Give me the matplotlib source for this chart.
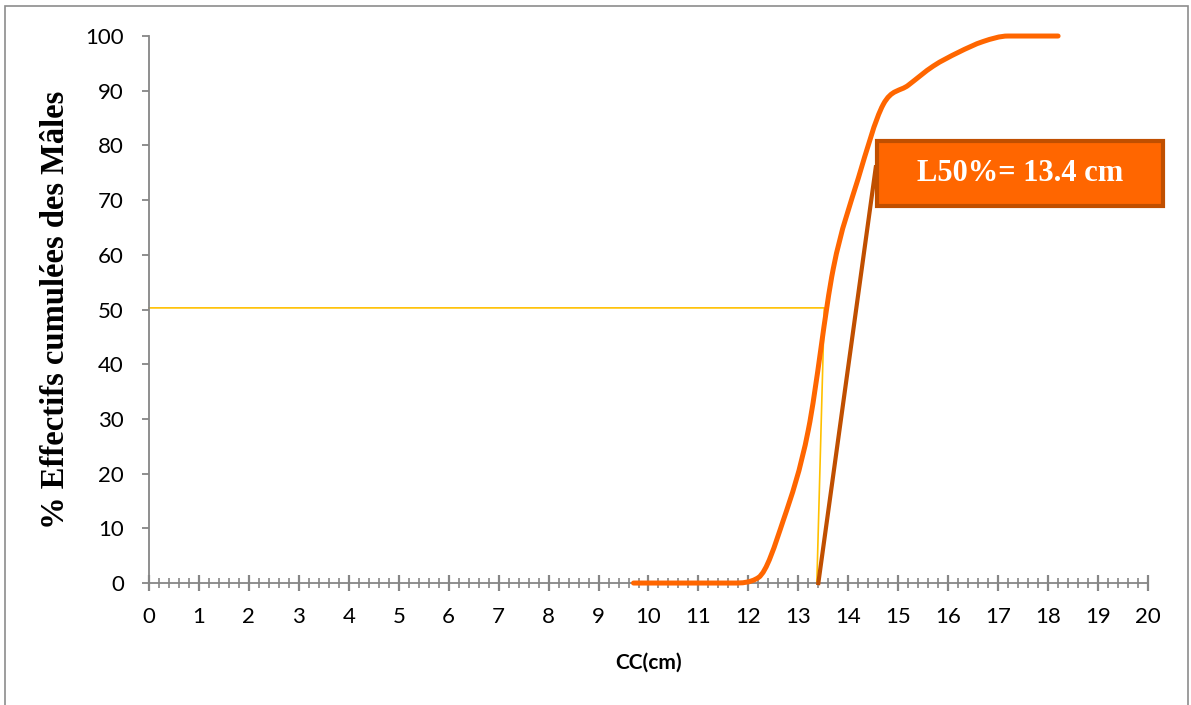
import numpy as np
import matplotlib
matplotlib.use("Agg")
import matplotlib.pyplot as plt
from matplotlib.path import Path
from matplotlib.patches import PathPatch, Rectangle
from matplotlib.ticker import MultipleLocator

# Cumulative % of males by carapace length class (CC, cm)
cc_cm = [9.7, 10.2, 10.7, 11.2, 11.7, 12.2, 12.7, 13.2, 13.7,
         14.2, 14.7, 15.2, 15.7, 16.2, 16.7, 17.2, 17.7, 18.2]
cum_pct = [0, 0, 0, 0, 0, 1, 11.5, 28, 57.5,
           74, 87.5, 91, 94.5, 97, 99, 100, 100, 100]

# L50 construction lines
l50_x = [0, 13.52, 13.37]
l50_y = [50.3, 50.3, 0]
pointer_x = [13.4, 14.55]
pointer_y = [0, 76]
l50_label = "L50%= 13.4 cm"

x_ticks = list(range(0, 21))
y_ticks = list(range(0, 101, 10))

orange = "#FF6600"
brown = "#C04F00"
gold = "#FFC000"
axis_grey = "#868686"
sans = ["Lato", "DejaVu Sans"]
serif = ["Liberation Serif", "DejaVu Serif"]


def smooth_path(xs, ys):
    # Excel-like smoothed line: Catmull-Rom tangents, clamped so flat parts stay flat
    x = np.asarray(xs, float)
    y = np.asarray(ys, float)
    h = np.diff(x)
    d = np.diff(y) / h
    m = np.zeros_like(y)
    m[0], m[-1] = d[0], d[-1]
    for k in range(1, len(y) - 1):
        if d[k - 1] * d[k] > 0:
            cr = (y[k + 1] - y[k - 1]) / (x[k + 1] - x[k - 1])
            m[k] = min(cr, 3 * min(d[k - 1], d[k]))
    verts = [(x[0], y[0])]
    codes = [Path.MOVETO]
    for i in range(len(x) - 1):
        verts += [(x[i] + h[i] / 3, y[i] + m[i] * h[i] / 3),
                  (x[i + 1] - h[i] / 3, y[i + 1] - m[i + 1] * h[i] / 3),
                  (x[i + 1], y[i + 1])]
        codes += [Path.CURVE4] * 3
    return Path(verts, codes)


fig = plt.figure(figsize=(11.91, 7.05), dpi=100)
ax = fig.add_axes([0.1251, 0.1730, 0.9639 - 0.1251, 0.9489 - 0.1730])

ax.set_xlim(0, 20)
ax.set_ylim(0, 100)

# yellow L50 guide lines
ax.plot(l50_x, l50_y, color=gold, lw=1.2, zorder=2, clip_on=False)

# cumulative curve
curve = PathPatch(smooth_path(cc_cm, cum_pct), fill=False, edgecolor=orange,
                  lw=3.6, capstyle="round", joinstyle="round", zorder=3,
                  clip_on=False)
ax.add_patch(curve)

# pointer line to the label box
ax.plot(pointer_x, pointer_y, color=brown, lw=3.0, zorder=3, clip_on=False)

# spines and ticks
for side in ["top", "right"]:
    ax.spines[side].set_visible(False)
for side in ["left", "bottom"]:
    ax.spines[side].set_color(axis_grey)
    ax.spines[side].set_linewidth(1.3)

ax.set_xticks(x_ticks)
ax.set_yticks(y_ticks)
ax.xaxis.set_minor_locator(MultipleLocator(0.2))
ax.tick_params(axis="x", which="major", direction="inout", length=11,
               width=1.6, color=axis_grey, pad=12)
ax.tick_params(axis="x", which="minor", direction="inout", length=7,
               width=1.2, color=axis_grey)
ax.tick_params(axis="y", which="major", direction="out", length=5,
               width=1.3, color=axis_grey, pad=13)
for lab in ax.get_xticklabels() + ax.get_yticklabels():
    lab.set_family(sans)
    lab.set_fontsize(16)
    lab.set_color("black")

ax.set_xlabel("CC(cm)", family=sans, fontsize=15, fontweight="bold",
              labelpad=18)
ax.set_ylabel("% Effectifs cumulées des Mâles", family=serif, fontsize=23.5,
              fontweight="bold", labelpad=10)

# label box
box = Rectangle((0.7364, 0.7078), 0.2401, 0.0922, transform=fig.transFigure,
                facecolor=orange, edgecolor=brown, lw=3.0, zorder=5)
fig.add_artist(box)
fig.text(0.7364 + 0.2401 / 2, 0.7078 + 0.0922 / 2, l50_label, color="white",
         family=serif, fontsize=22, fontweight="bold", ha="center",
         va="center", zorder=6)

# outer chart frame
frame = Rectangle((5 / 1191, -0.01), (1188 - 5) / 1191, 1.01 - 6.5 / 705,
                  transform=fig.transFigure, fill=False, edgecolor="#8C8C8C",
                  lw=1.2, zorder=0)
fig.add_artist(frame)

fig.savefig("out.png", dpi=100)
